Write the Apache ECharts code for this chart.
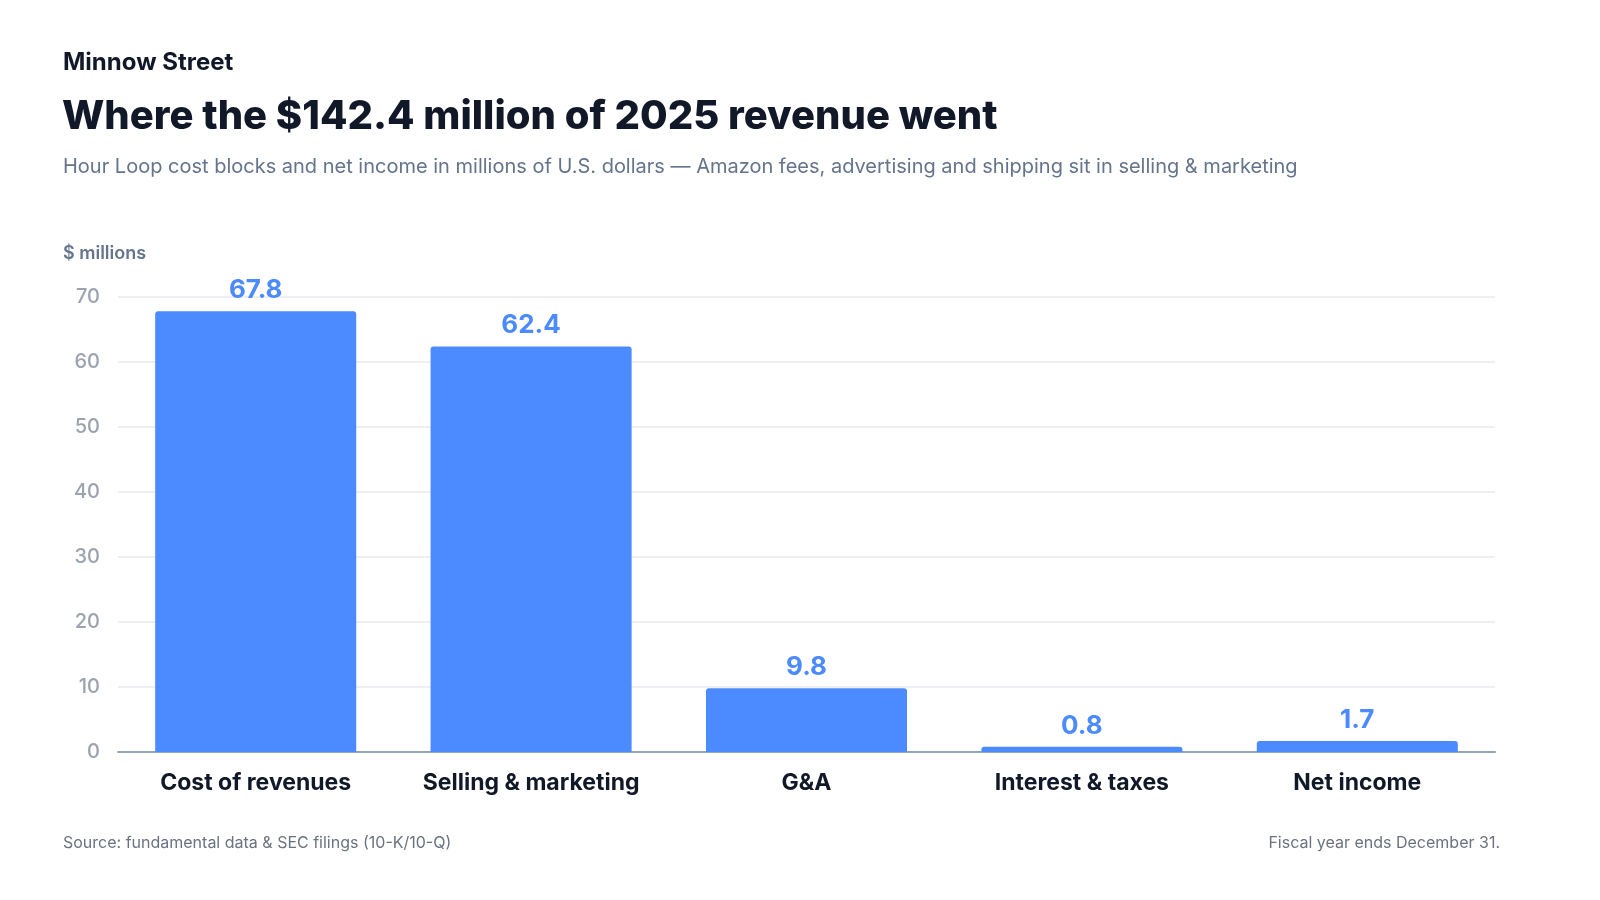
<!DOCTYPE html>
<html>
<head>
<meta charset="utf-8">
<title>Where the $142.4 million of 2025 revenue went</title>
<script src="https://cdn.jsdelivr.net/npm/echarts@6/dist/echarts.min.js"></script>
<style>
  html, body { margin: 0; padding: 0; background: #ffffff; }
  #chart { width: 1600px; height: 900px; }
</style>
</head>
<body>
<div id="chart"></div>
<script>
// categories and values, $ millions
var categories = ["Cost of revenues", "Selling & marketing", "G&A", "Interest & taxes", "Net income"];
var amounts = [67.8, 62.4, 9.8, 0.8, 1.7];
var yTicks = [0, 10, 20, 30, 40, 50, 60, 70];

var font = "Inter, 'Noto Sans', sans-serif";
var blue = "#4b8bff";

var chart = echarts.init(document.getElementById("chart"));

// titles have 5px default padding, so left values are shifted by -5
var option = {
    backgroundColor: "#ffffff",
    textStyle: { fontFamily: font },
    title: [
        {
            text: "Minnow Street",
            left: 58, top: 46,
            textStyle: { fontFamily: font, fontSize: 24, fontWeight: 700, color: "#111827" }
        },
        {
            text: "Where the $142.4 million of 2025 revenue went",
            left: 57, top: 92,
            textStyle: { fontFamily: font, fontSize: 40, fontWeight: 800, color: "#111827" }
        },
        {
            text: "Hour Loop cost blocks and net income in millions of U.S. dollars \u2014 Amazon fees, advertising and shipping sit in selling & marketing",
            left: 58, top: 152,
            textStyle: { fontFamily: font, fontSize: 20, fontWeight: 400, color: "#64748b" }
        },
        {
            text: "$ millions",
            left: 58, top: 240,
            textStyle: { fontFamily: font, fontSize: 18, fontWeight: 600, color: "#64748b" }
        },
        {
            text: "Source: fundamental data & SEC filings (10-K/10-Q)",
            left: 58, top: 830,
            textStyle: { fontFamily: font, fontSize: 16, fontWeight: 400, color: "#6b7280" }
        },
        {
            text: "Fiscal year ends December 31.",
            right: 95, top: 830,
            textStyle: { fontFamily: font, fontSize: 16, fontWeight: 400, color: "#6b7280" }
        }
    ],
    grid: { left: 118, right: 105, top: 297, bottom: 148, containLabel: false },
    xAxis: {
        type: "category",
        data: categories,
        axisTick: { show: false },
        axisLine: { lineStyle: { color: "#94a3b8", width: 2 } },
        axisLabel: {
            interval: 0,
            margin: 20,
            fontFamily: font, fontSize: 23, fontWeight: 700, color: "#111827"
        }
    },
    yAxis: {
        type: "value",
        min: yTicks[0],
        max: yTicks[yTicks.length - 1],
        interval: 10,
        axisLine: { show: false },
        axisTick: { show: false },
        splitLine: { lineStyle: { color: "#e8eaef", width: 1.5 } },
        axisLabel: {
            margin: 18,
            fontFamily: font, fontSize: 20, fontWeight: 500, color: "#9ca3af"
        }
    },
    series: [{
        type: "bar",
        data: amounts,
        barWidth: "73%",
        itemStyle: { color: blue, borderRadius: [3, 3, 0, 0] },
        label: {
            show: true,
            position: "top",
            distance: 8,
            fontFamily: font, fontSize: 26, fontWeight: 700, color: blue,
            formatter: function (p) { return p.value.toFixed(1); }
        }
    }]
};

chart.setOption(option);
</script>
</body>
</html>
